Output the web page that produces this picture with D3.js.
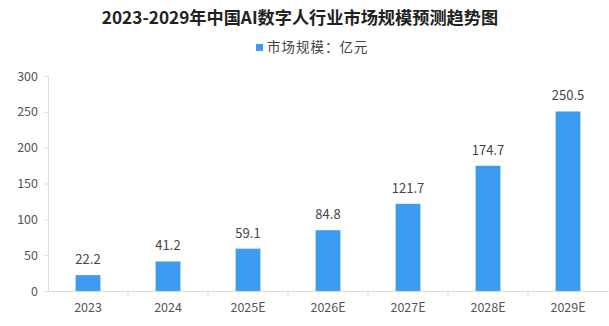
<!DOCTYPE html>
<html><head><meta charset="utf-8">
<script src="https://cdn.jsdelivr.net/npm/d3@7/dist/d3.min.js"></script>
<style>body{margin:0;background:#fff}svg{display:block}</style>
</head><body>
<script>
const categories = ["2023","2024","2025E","2026E","2027E","2028E","2029E"];
const values = [22.2,41.2,59.1,84.8,121.7,174.7,250.5];
const yTicks = [0,50,100,150,200,250,300];
const title = "2023-2029年中国AI数字人行业市场规模预测趋势图";
const legendLabel = "市场规模：亿元";

const W=609,H=326, L=48, R=608, T=76, B=291;
const font = "'Noto Sans CJK SC', 'Noto Sans', sans-serif";
const svg=d3.select("body").append("svg").attr("width",W).attr("height",H);
const x=d3.scaleBand().domain(categories).range([L,R]).padding(0);
const y=d3.scaleLinear().domain([0,300]).range([B,T]);
const color="#3d9bf2";

svg.append("text").attr("x",300).attr("y",24).attr("text-anchor","middle")
 .attr("font-family",font).attr("font-weight","bold").attr("font-size",17.2).attr("fill","#222").text(title);
svg.append("rect").attr("x",256).attr("y",44).attr("width",7).attr("height",7).attr("fill",color);
svg.append("text").attr("x",267).attr("y",52).attr("font-family",font).attr("font-size",13.5).attr("letter-spacing",1).attr("fill","#444").text(legendLabel);

const ya=svg.append("g").attr("transform",`translate(${L},0)`).call(d3.axisLeft(y).tickValues(yTicks).tickSize(4).tickPadding(6));
ya.selectAll("line,path").attr("stroke","#ddd");
ya.selectAll("text").attr("font-family",font).attr("font-size",12.5).attr("fill","#555");

const xa=svg.append("g").attr("transform",`translate(0,${B})`).call(d3.axisBottom(x).tickSize(0).tickPadding(12));
xa.select("path").attr("stroke","#ddd");
xa.selectAll("text").attr("font-family",font).attr("font-size",12.5).attr("fill","#555");
xa.selectAll(".bt").data(categories.slice(1)).enter().append("line")
 .attr("x1",d=>x(d)).attr("x2",d=>x(d)).attr("y1",0).attr("y2",5).attr("stroke","#ddd");

const bw=x.bandwidth()*0.31;
svg.selectAll(".bar").data(values).enter().append("rect")
 .attr("x",(d,i)=>x(categories[i])+x.bandwidth()/2-bw/2).attr("width",bw)
 .attr("y",d=>y(d)).attr("height",d=>B-y(d)).attr("fill",color);
svg.selectAll(".lbl").data(values).enter().append("text")
 .attr("x",(d,i)=>x(categories[i])+x.bandwidth()/2).attr("y",d=>y(d)-11)
 .attr("text-anchor","middle").attr("font-family",font).attr("font-size",13).attr("fill","#444")
 .text(d=>d.toFixed(1));
</script>
</body></html>
